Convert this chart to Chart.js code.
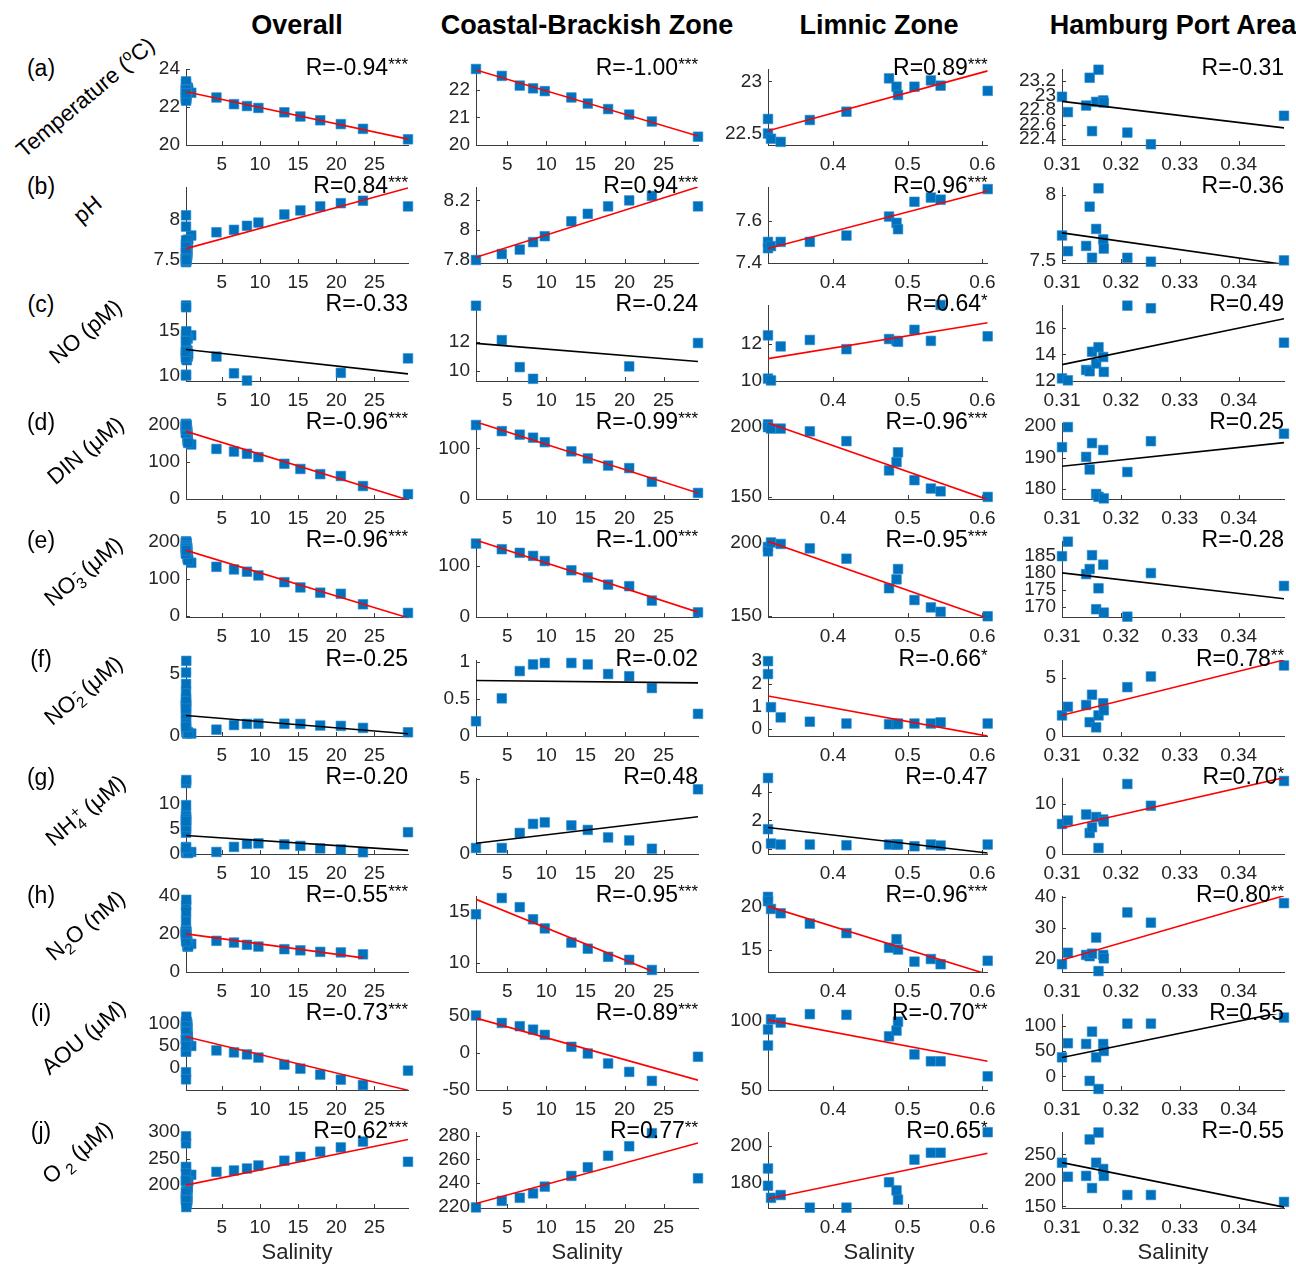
<!DOCTYPE html>
<html>
<head>
<meta charset="utf-8">
<script src="https://cdn.jsdelivr.net/npm/chart.js@4.4.1/dist/chart.umd.min.js"></script>
<style>
  html, body { margin: 0; padding: 0; background: #fff; }
  #fig { position: relative; width: 1296px; height: 1266px; overflow: hidden;
         font-family: "Liberation Sans", Arial, Helvetica, sans-serif; color: #000; }
  #fig canvas { position: absolute; }
  .t { position: absolute; white-space: nowrap; line-height: 1; transform: translate(-50%, -50%); }
  .col { font-weight: bold; font-size: 27px; }
  .tag { font-size: 23px; }
  .ylab { font-size: 22.5px; transform: translate(-50%, -50%) rotate(-40deg); }
  .xlab { font-size: 22px; color: #262626; }
  sub, sup { font-size: 0.68em; line-height: 0; }
  .k { margin-left: -0.42em; }
</style>
</head>
<body>
<div id="fig"></div>
<script>
// ---------- labels ----------
const columnTitles = ['Overall', 'Coastal-Brackish Zone', 'Limnic Zone', 'Hamburg Port Area'];
const rowTags = ['(a)', '(b)', '(c)', '(d)', '(e)', '(f)', '(g)', '(h)', '(i)', '(j)'];
const yTitles = [
  'Temperature (<sup>o</sup>C)',
  'pH',
  'NO (pM)',
  'DIN (\u03bcM)',
  'NO<sub>3</sub><sup class="k">-</sup> (\u03bcM)',
  'NO<sub>2</sub><sup class="k">-</sup> (\u03bcM)',
  'NH<sub>4</sub><sup class="k">+</sup> (\u03bcM)',
  'N<sub>2</sub>O (nM)',
  'AOU (\u03bcM)',
  'O<sub style="margin-left:0.3em">2</sub> (\u03bcM)'
];
const xTitle = 'Salinity';

// ---------- salinity of the stations in each zone ----------
const salCoastal = [1.0, 4.3, 6.6, 8.3, 9.8, 13.2, 15.3, 17.9, 20.6, 23.5, 29.4];
const salLimnic  = [0.313, 0.313, 0.317, 0.330, 0.369, 0.418, 0.475, 0.485, 0.487, 0.509, 0.531, 0.544, 0.607];
const salPort    = [0.3100, 0.3110, 0.3141, 0.3147, 0.3151, 0.3158, 0.3162, 0.3170, 0.3171, 0.3211, 0.3251, 0.3477];

// ---------- measured variables (coastal / limnic / port) ----------
const tempCoastal = [22.75, 22.5, 22.15, 22.05, 21.95, 21.72, 21.5, 21.3, 21.1, 20.85, 20.3];
const tempLimnic  = [22.64, 22.50, 22.45, 22.42, 22.63, 22.71, 23.03, 22.95, 22.87, 22.95, 23.01, 22.96, 22.91];
const tempPort    = [22.98, 22.77, 22.86, 23.24, 22.51, 22.91, 23.35, 22.93, 22.90, 22.49, 22.33, 22.72];

const phCoastal = [7.80, 7.84, 7.87, 7.92, 7.96, 8.06, 8.11, 8.16, 8.20, 8.23, 8.16];
const phLimnic  = [7.50, 7.47, 7.48, 7.50, 7.50, 7.53, 7.62, 7.59, 7.56, 7.69, 7.71, 7.70, 7.75];
const phPort    = [7.69, 7.57, 7.61, 7.91, 7.52, 7.74, 8.05, 7.66, 7.59, 7.52, 7.49, 7.50];

const noCoastal = [14.45, 12.1, 10.25, 9.45, null, null, null, null, 10.3, null, 11.9];
const noLimnic  = [12.45, 10.1, 10.0, 11.85, 12.2, 11.7, 12.25, 12.15, 12.1, 12.75, 12.15, 14.1, 12.4];
const noPort    = [12.15, 12.0, 12.8, 12.7, 14.2, 13.3, 14.55, 13.8, 12.65, 17.75, 17.55, 14.9];

const dinCoastal = [146, 134, 127, 121, 112, 94, 80, 66, 61, 34, 12];
const dinLimnic  = [202, 200, 199, 199, 197, 190, 169, 175, 182, 162, 156, 154, 150];
const dinPort    = [193.3, 199.7, 190.2, 186.2, 194.6, 178.4, 177.5, 192.4, 177.0, 185.4, 195.2, 197.6];

const no3Coastal = [143, 132, 125, 119, 109, 91, 77, 63, 60, 32, 9];
const no3Limnic  = [197, 194, 200, 199, 196, 189, 169, 175, 182, 161, 156, 153, 150];
const no3Port    = [185, 189.3, 179.7, 181.2, 185.3, 169.3, 175.5, 182.5, 168.3, 167.1, 180, 176.2];

const no2Coastal = [0.2, 0.51, 0.88, 0.97, 0.99, 0.99, 0.97, 0.84, 0.81, 0.65, 0.3];
const no2Limnic  = [3.0, 2.43, 0.97, 0.52, 0.33, 0.25, 0.22, 0.22, 0.25, 0.25, 0.25, 0.3, 0.25];
const no2Port    = [1.76, 2.5, 2.65, 1.18, 3.53, 0.74, 1.76, 2.8, 2.2, 4.18, 5.09, 6.03];

const nh4Coastal = [0.4, 0.4, 1.4, 2.0, 2.1, 1.9, 1.6, 1.1, 0.9, 0.35, 4.3];
const nh4Limnic  = [4.95, 1.38, 0.38, 0.31, 0.31, 0.26, 0.31, 0.31, 0.31, 0.19, 0.31, 0.24, 0.31];
const nh4Port    = [6.0, 6.7, 7.9, 4.2, 5.35, 7.4, 1.2, 6.9, 6.5, 14.0, 9.65, 14.6];

const n2oCoastal = [14.8, 16.4, 15.5, 14.3, 13.4, 12.0, 11.4, 10.6, 10.3, 9.3, null];
const n2oLimnic  = [21.1, 20.6, 19.7, 19.2, 18.0, 16.9, 15.2, 16.2, 15.0, 13.6, 13.9, 13.3, 13.7];
const n2oPort    = [18.3, 22.0, 21.3, 20.9, 21.7, 26.9, 16.1, 21.3, 20.2, 35.0, 31.7, 38.0];

const aouCoastal = [50, 40, 35.6, 31, 24, 8, -1, -14.4, -25.7, -37.8, -5.4];
const aouLimnic  = [93.4, 81.9, 100.7, 98.3, 104.4, 103.9, 88.5, 92.6, 99, 75.5, 70.6, 70.6, 59.8];
const aouPort    = [37.5, 65.3, 63.9, -9, 88.2, 37.5, -25, 63.9, 50, 104, 104, 116];

const o2Coastal = [219.5, 225, 227.6, 231.3, 237, 246, 253.3, 263, 271, 282, 244];
const o2Limnic  = [187.8, 178.5, 172, 173.5, 166.7, 166.7, 180.4, 176, 171, 192.6, 196.3, 196.3, 207.4];
const o2Port    = [234, 207, 208.7, 278.7, 185.3, 234, 292, 222, 208.7, 172, 172, 158.7];

// ---------- correlation labels: Overall, Coastal, Limnic, Port ----------
const rTemp = ['R=-0.94***', 'R=-1.00***', 'R=0.89***', 'R=-0.31'];
const rPh   = ['R=0.84***', 'R=0.94***', 'R=0.96***', 'R=-0.36'];
const rNo   = ['R=-0.33', 'R=-0.24', 'R=0.64*', 'R=0.49'];
const rDin  = ['R=-0.96***', 'R=-0.99***', 'R=-0.96***', 'R=0.25'];
const rNo3  = ['R=-0.96***', 'R=-1.00***', 'R=-0.95***', 'R=-0.28'];
const rNo2  = ['R=-0.25', 'R=-0.02', 'R=-0.66*', 'R=0.78**'];
const rNh4  = ['R=-0.20', 'R=0.48', 'R=-0.47', 'R=0.70*'];
const rN2o  = ['R=-0.55***', 'R=-0.95***', 'R=-0.96***', 'R=0.80**'];
const rAou  = ['R=-0.73***', 'R=-0.89***', 'R=-0.70**', 'R=0.55'];
const rO2   = ['R=0.62***', 'R=0.77**', 'R=0.65*', 'R=-0.55'];

// ---------- y ranges and y tick labels: Overall, Coastal, Limnic, Port ----------
const yRangeTemp = [[20, 24], [20, 22.75], [22.39, 23.12], [22.32, 23.36]];
const yTicksTemp = [[20, 22, 24], [20, 21, 22], [22.5, 23], [22.4, 22.6, 22.8, 23, 23.2]];
const yRangePh = [[7.46, 8.4], [7.78, 8.29], [7.40, 7.76], [7.48, 8.06]];
const yTicksPh = [[7.5, 8], [7.8, 8, 8.2], [7.4, 7.6], [7.5, 8]];
const yRangeNo = [[9.4, 17.8], [9.3, 14.5], [9.97, 14.1], [11.95, 17.8]];
const yTicksNo = [[10, 15], [10, 12], [10, 12], [12, 14, 16]];
const yRangeDin = [[-1, 204], [0, 150], [148.5, 203], [176.8, 201]];
const yTicksDin = [[0, 100, 200], [0, 100], [150, 200], [180, 190, 200]];
const yRangeNo3 = [[-2, 201], [0, 148], [149.5, 201], [167, 189.5]];
const yTicksNo3 = [[0, 100, 200], [0, 100], [150, 200], [170, 175, 180, 185]];
const yRangeNo2 = [[0, 6.1], [0, 1.03], [-0.3, 3.05], [0, 6.5]];
const yTicksNo2 = [[0, 5], [0, 0.5, 1], [0, 1, 2, 3], [0, 5]];
const yRangeNh4 = [[0, 15], [0, 5.05], [-0.35, 4.95], [0, 15.2]];
const yTicksNh4 = [[0, 5, 10], [0, 5], [0, 2, 4], [0, 10]];
const yRangeN2o = [[0, 40], [9.1, 16.6], [12.4, 21.2], [15.8, 40.3]];
const yTicksN2o = [[0, 20, 40], [10, 15], [15, 20], [20, 30, 40]];
const yRangeAou = [[-49, 122], [-50, 52], [50, 104.5], [-27, 123]];
const yTicksAou = [[0, 50, 100], [-50, 0, 50], [50, 100], [0, 50, 100]];
const yRangeO2 = [[157, 300], [219, 283], [166.5, 207.5], [147, 293]];
const yTicksO2 = [[200, 250, 300], [220, 240, 260, 280], [180, 200], [150, 200, 250]];

// ---------- x tick labels per column ----------
const xTicks = [[5, 10, 15, 20, 25], [5, 10, 15, 20, 25], [0.4, 0.5, 0.6], [0.31, 0.32, 0.33, 0.34]];

const variables = [
  { coastal: tempCoastal, limnic: tempLimnic, port: tempPort, r: rTemp, range: yRangeTemp, ticks: yTicksTemp },
  { coastal: phCoastal,   limnic: phLimnic,   port: phPort,   r: rPh,   range: yRangePh,   ticks: yTicksPh },
  { coastal: noCoastal,   limnic: noLimnic,   port: noPort,   r: rNo,   range: yRangeNo,   ticks: yTicksNo },
  { coastal: dinCoastal,  limnic: dinLimnic,  port: dinPort,  r: rDin,  range: yRangeDin,  ticks: yTicksDin },
  { coastal: no3Coastal,  limnic: no3Limnic,  port: no3Port,  r: rNo3,  range: yRangeNo3,  ticks: yTicksNo3 },
  { coastal: no2Coastal,  limnic: no2Limnic,  port: no2Port,  r: rNo2,  range: yRangeNo2,  ticks: yTicksNo2 },
  { coastal: nh4Coastal,  limnic: nh4Limnic,  port: nh4Port,  r: rNh4,  range: yRangeNh4,  ticks: yTicksNh4 },
  { coastal: n2oCoastal,  limnic: n2oLimnic,  port: n2oPort,  r: rN2o,  range: yRangeN2o,  ticks: yTicksN2o },
  { coastal: aouCoastal,  limnic: aouLimnic,  port: aouPort,  r: rAou,  range: yRangeAou,  ticks: yTicksAou },
  { coastal: o2Coastal,   limnic: o2Limnic,   port: o2Port,   r: rO2,   range: yRangeO2,   ticks: yTicksO2 }
];

// ---------- layout & style ----------
const FAM = '"Liberation Sans", Arial, Helvetica, sans-serif';
const BLUE = '#0072BD';
const AXIS = '#3c3c3c';
const TXT = '#262626';
const PLOT_LEFT = [186, 476, 768, 1062];
const PLOT_W = 222, PLOT_H = 76;
const PAD_L = 64, PAD_R = 14, PAD_T = 24, PAD_B = 36;
const rowBottom = r => Math.round(145 + 118.1 * r);
const yTitlePos = [[86, 29], [88, 23], [86, 27], [86, 28], [84, 31], [84, 31], [86, 33], [86, 30], [84, 24], [78, 21]];

Chart.defaults.font.family = FAM;

const fig = document.getElementById('fig');
function addText(cls, html, x, y) {
  const d = document.createElement('div');
  d.className = 't ' + cls;
  d.innerHTML = html;
  d.style.left = x + 'px';
  d.style.top = y + 'px';
  fig.appendChild(d);
}

// least-squares line over the valid pairs, spanning the sampled salinity range
function fitLine(xs, ys) {
  const px = [], py = [];
  xs.forEach((x, i) => { if (ys[i] !== null && ys[i] !== undefined) { px.push(x); py.push(ys[i]); } });
  const n = px.length;
  const mx = px.reduce((a, b) => a + b, 0) / n;
  const my = py.reduce((a, b) => a + b, 0) / n;
  let sxy = 0, sxx = 0;
  for (let i = 0; i < n; i++) { sxy += (px[i] - mx) * (py[i] - my); sxx += (px[i] - mx) ** 2; }
  const b = sxy / sxx, a = my - b * mx;
  const x0 = Math.min(...px), x1 = Math.max(...px);
  return [{ x: x0, y: a + b * x0 }, { x: x1, y: a + b * x1 }];
}

// inward tick marks on the left and bottom axes
const innerTicks = {
  id: 'innerTicks',
  beforeDatasetsDraw(chart) {
    const { ctx, chartArea: a, scales: { x, y } } = chart;
    ctx.save();
    ctx.strokeStyle = AXIS;
    ctx.lineWidth = 1;
    ctx.beginPath();
    x.ticks.forEach(t => {
      const px = Math.round(x.getPixelForValue(t.value)) + 0.5;
      ctx.moveTo(px, a.bottom); ctx.lineTo(px, a.bottom - 4);
    });
    y.ticks.forEach(t => {
      const py = Math.round(y.getPixelForValue(t.value)) + 0.5;
      ctx.moveTo(a.left, py); ctx.lineTo(a.left + 4, py);
    });
    ctx.stroke();
    ctx.restore();
  }
};

// correlation coefficient with significance stars, top right of each panel
const rLabel = {
  id: 'rLabel',
  afterDraw(chart, args, opts) {
    const { ctx, chartArea: a } = chart;
    const m = /^(.*?)(\**)$/.exec(opts.text);
    const main = m[1], stars = m[2];
    ctx.save();
    ctx.fillStyle = '#000';
    ctx.textBaseline = 'alphabetic';
    ctx.textAlign = 'left';
    ctx.font = '17px ' + FAM;
    const ws = stars ? ctx.measureText(stars).width : 0;
    ctx.font = '23px ' + FAM;
    const wm = ctx.measureText(main).width;
    const base = a.top + 6;
    ctx.fillText(main, a.right - ws - wm, base);
    if (stars) {
      ctx.font = '17px ' + FAM;
      ctx.fillText(stars, a.right - ws, base - 5);
    }
    ctx.restore();
  }
};

function scaleOpts(min, max, ticks, isX) {
  return {
    type: 'linear',
    min, max,
    bounds: 'data',
    afterBuildTicks: s => { s.ticks = ticks.map(v => ({ value: v })); },
    afterFit: s => { if (isX) s.height = PAD_B; else s.width = PAD_L; },
    grid: { display: false, drawTicks: false },
    border: { display: true, color: AXIS, width: 1 },
    ticks: {
      font: { family: FAM, size: 19 },
      color: TXT,
      padding: isX ? 8 : 6,
      autoSkip: false,
      maxRotation: 0,
      minRotation: 0,
      callback: v => String(v)
    }
  };
}

// column titles
columnTitles.forEach((t, c) => addText('col', t, PLOT_LEFT[c] + PLOT_W / 2, 25));

variables.forEach((v, r) => {
  const bottom = rowBottom(r);
  const top = bottom - PLOT_H;
  addText('tag', rowTags[r], 41, top - 1);
  addText('ylab', yTitles[r], yTitlePos[r][0], top + yTitlePos[r][1]);

  const zones = [
    [salCoastal.concat(salLimnic, salPort), v.coastal.concat(v.limnic, v.port)],
    [salCoastal, v.coastal],
    [salLimnic, v.limnic],
    [salPort, v.port]
  ];

  zones.forEach(([xs, ys], c) => {
    const W = PAD_L + PLOT_W + PAD_R, H = PAD_T + PLOT_H + PAD_B;
    const cv = document.createElement('canvas');
    cv.width = W; cv.height = H;
    cv.style.width = W + 'px'; cv.style.height = H + 'px';
    cv.style.left = (PLOT_LEFT[c] - PAD_L) + 'px';
    cv.style.top = (top - PAD_T) + 'px';
    fig.appendChild(cv);

    const pts = [];
    xs.forEach((x, i) => { if (ys[i] !== null) pts.push({ x, y: ys[i] }); });
    const label = v.r[c];
    const lineColor = label.includes('*') ? '#FF0000' : '#000000';

    new Chart(cv, {
      type: 'scatter',
      data: {
        datasets: [
          {
            type: 'line',
            data: fitLine(xs, ys),
            borderColor: lineColor,
            borderWidth: 1.6,
            pointRadius: 0,
            fill: false,
            tension: 0,
            clip: 0
          },
          {
            data: pts,
            pointStyle: 'rect',
            pointRadius: 6.8,
            pointBackgroundColor: BLUE,
            pointBorderColor: '#2a8ad0',
            pointBorderWidth: 0.6,
            showLine: false,
            clip: false
          }
        ]
      },
      options: {
        responsive: false,
        animation: false,
        devicePixelRatio: 1,
        events: [],
        layout: { padding: { top: PAD_T, right: PAD_R, left: 0, bottom: 0 } },
        plugins: { legend: { display: false }, tooltip: { enabled: false }, rLabel: { text: label } },
        scales: {
          x: scaleOpts(Math.min(...xs), Math.max(...xs), xTicks[c], true),
          y: scaleOpts(v.range[c][0], v.range[c][1], v.ticks[c], false)
        }
      },
      plugins: [innerTicks, rLabel]
    });
  });
});

// x-axis titles under the bottom row
columnTitles.forEach((t, c) => addText('xlab', xTitle, PLOT_LEFT[c] + PLOT_W / 2, 1252));
</script>
</body>
</html>
